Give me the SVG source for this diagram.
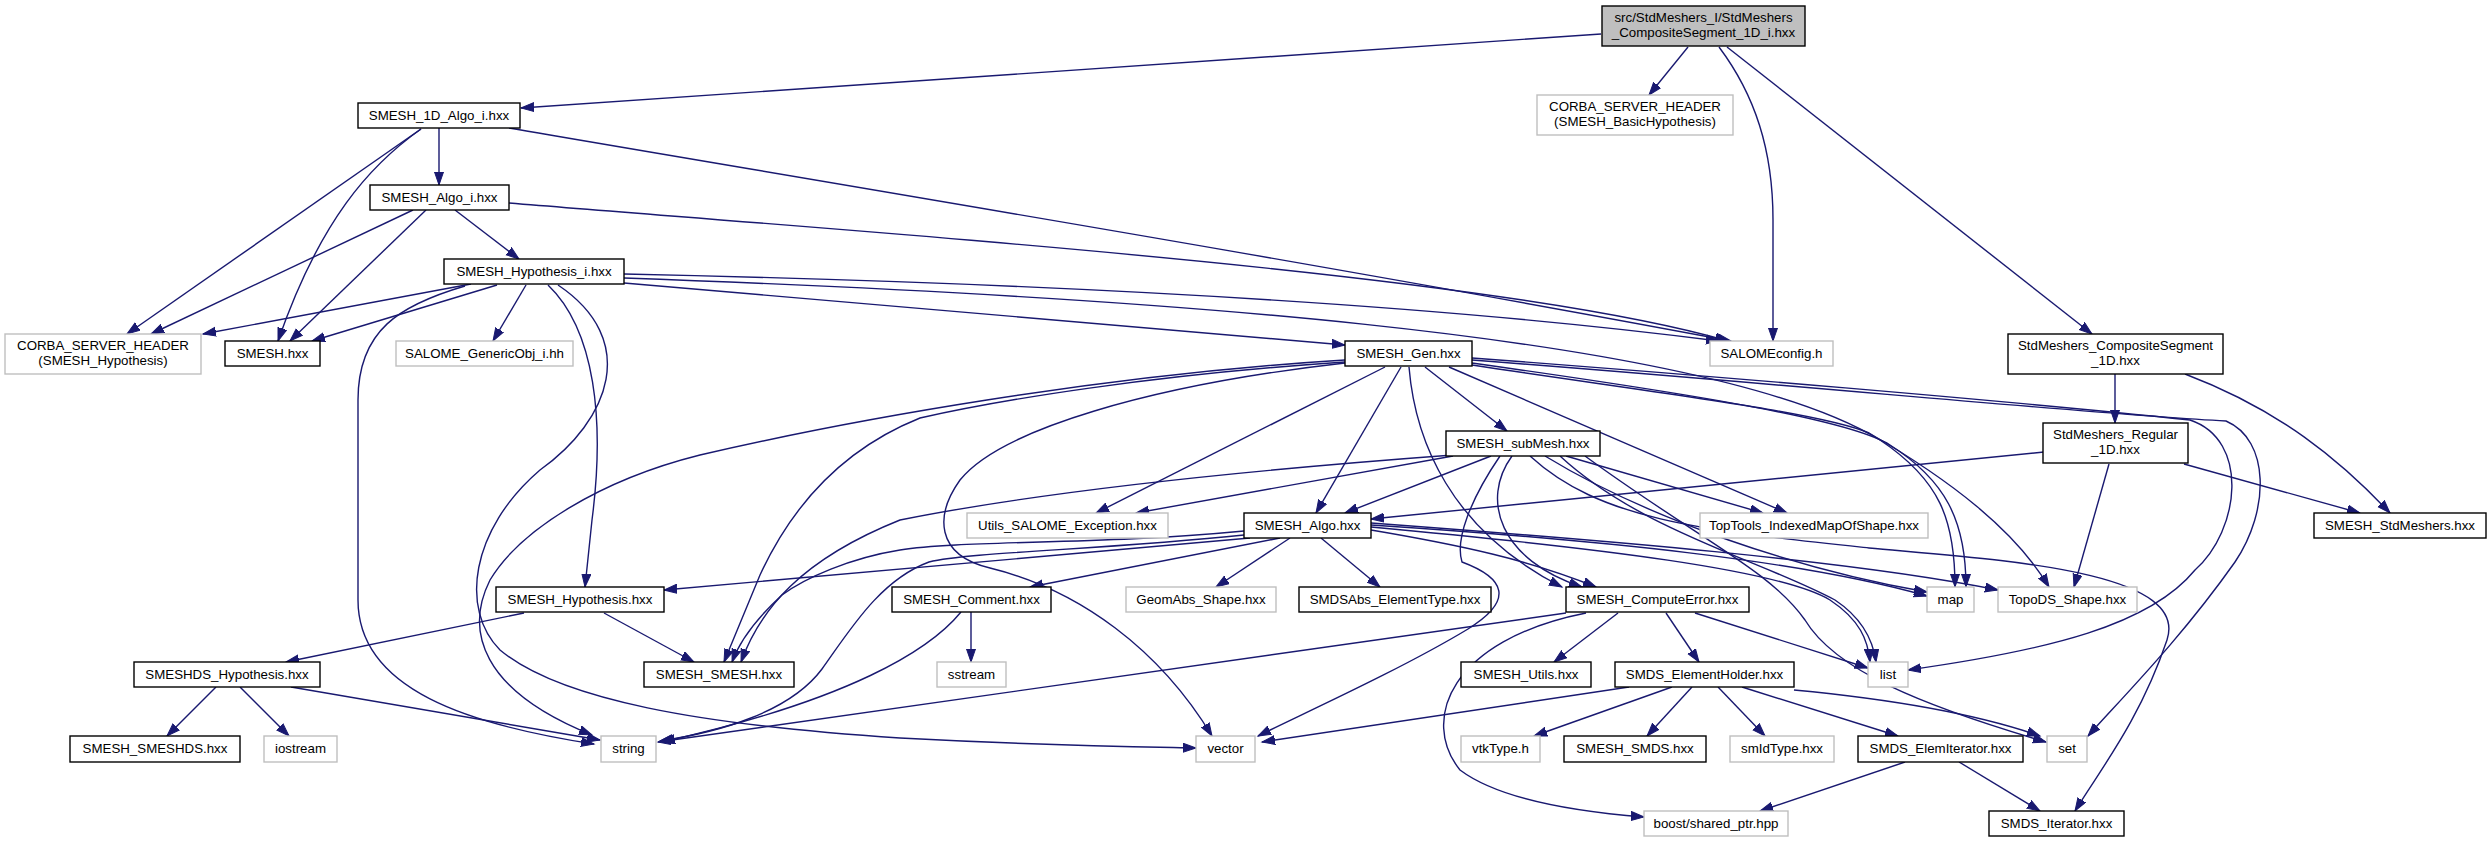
<svg xmlns="http://www.w3.org/2000/svg" width="2491" height="843" viewBox="0 0 2491 843">
<defs>
<marker id="ar" markerUnits="userSpaceOnUse" markerWidth="15" markerHeight="11" refX="13" refY="5" orient="auto">
<path d="M0,0.5 L13,5 L0,9.5 z" fill="#191970" stroke="#191970" stroke-width="1"/>
</marker>
<style>
.nd rect{fill:#fff;stroke:#000;stroke-width:1.4}
.gr rect{fill:#fff;stroke:#bfbfbf;stroke-width:1.4}
.rt rect{fill:#bfbfbf;stroke:#000;stroke-width:1.4}
text{font-family:"Liberation Sans",Arial,Helvetica,sans-serif;font-size:13.3px;text-anchor:middle;fill:#000}
#edges path{fill:none;stroke:#191970;stroke-width:1.4;marker-end:url(#ar)}
</style>
</defs>
<rect width="2491" height="843" fill="#fff"/>
<g id="edges">
<path d="M1601,34 L521,108"/>
<path d="M1688,47 L1649,95"/>
<path d="M1719,47 C1755,95 1773,150 1773,220 L1773,341"/>
<path d="M1727,47 L2092,334"/>
<path d="M439,128 L439,185"/>
<path d="M421,129 L127,334"/>
<path d="M421,129 C370,165 320,220 278,341"/>
<path d="M509,128 C800,178 1300,260 1731,341"/>
<path d="M413,210 L151,334"/>
<path d="M426,210 L290,341"/>
<path d="M455,210 L519,259"/>
<path d="M509,203 C900,235 1500,275 1728,341"/>
<path d="M471,284 L203,334"/>
<path d="M497,285 L312,341"/>
<path d="M526,285 L493,341"/>
<path d="M465,286 C400,305 358,330 358,400 L358,600 C358,690 470,725 594,744"/>
<path d="M548,285 C595,330 605,420 592,520 L585,587"/>
<path d="M558,285 C640,340 610,420 540,470 C470,530 460,610 500,650 C560,700 700,725 900,738 C1050,746 1150,747 1196,748"/>
<path d="M624,283 L1345,345"/>
<path d="M624,274 C1000,282 1400,300 1719,341"/>
<path d="M624,278 C1100,295 1700,330 1880,440 C1940,480 1955,520 1955,587"/>
<path d="M2115,374 L2115,423"/>
<path d="M2185,374 C2280,410 2340,460 2390,513"/>
<path d="M2184,464 L2360,513"/>
<path d="M2044,452 L1371,519"/>
<path d="M2109,464 L2074,587"/>
<path d="M1425,367 L1507,431"/>
<path d="M1401,367 L1316,513"/>
<path d="M1385,367 L1096,513"/>
<path d="M1409,367 C1415,440 1450,530 1562,587"/>
<path d="M1449,367 L1787,513"/>
<path d="M1472,363 C1700,395 1850,420 1890,445 C1945,480 1966,520 1966,587"/>
<path d="M1472,365 C1650,392 1820,412 1869,433 C1950,480 2015,530 2049,587"/>
<path d="M1345,360 C1100,375 850,420 700,455 C600,480 520,530 490,580 C465,630 480,690 592,735"/>
<path d="M1345,362 C1150,375 1000,400 920,418 C840,450 790,510 760,575 L724,662"/>
<path d="M1345,363 C1150,385 1000,430 960,480 C935,515 935,555 990,568 C1080,590 1160,650 1212,736"/>
<path d="M1472,358 C1700,375 2000,400 2190,420 C2250,440 2240,530 2195,570 C2150,625 2050,650 1908,670"/>
<path d="M1472,360 C1800,385 2100,415 2226,421 C2270,440 2270,510 2235,562 C2180,640 2120,700 2088,736"/>
<path d="M1491,456 L1345,513"/>
<path d="M1453,456 L1136,513"/>
<path d="M1566,456 L1763,513"/>
<path d="M1453,455 C1250,470 1050,490 900,520 C800,560 760,610 741,662"/>
<path d="M1512,456 C1480,500 1500,560 1582,587"/>
<path d="M1545,456 C1650,520 1800,570 1927,592"/>
<path d="M1530,456 C1600,520 1700,530 1869,548 C2000,560 2190,570 2167,640 C2140,720 2100,770 2075,811"/>
<path d="M1500,456 C1470,500 1455,540 1462,562 C1505,578 1515,600 1468,629 C1400,670 1300,715 1258,736"/>
<path d="M1560,456 C1640,530 1760,560 1835,600 C1862,618 1873,640 1876,662"/>
<path d="M1585,456 C1700,540 1770,570 1805,620 C1835,670 1920,705 2046,742"/>
<path d="M1244,531 C1100,545 960,540 900,550 C850,558 805,578 782,595 C757,618 740,640 732,662"/>
<path d="M1244,535 C1100,550 970,552 929,562 C880,580 850,630 822,669 C790,712 720,732 660,741"/>
<path d="M1250,538 L664,590"/>
<path d="M1280,538 L1030,587"/>
<path d="M1290,538 L1216,587"/>
<path d="M1321,538 L1380,587"/>
<path d="M1371,530 C1460,545 1530,560 1596,587"/>
<path d="M1371,525 C1600,540 1800,560 1927,596"/>
<path d="M1371,523 C1600,540 1850,560 1998,590"/>
<path d="M1371,527 C1600,548 1780,570 1830,600 C1860,620 1868,640 1870,662"/>
<path d="M1618,613 L1554,662"/>
<path d="M1666,613 L1699,662"/>
<path d="M1695,613 L1868,668"/>
<path d="M1566,613 L658,742"/>
<path d="M1586,613 C1450,640 1420,720 1460,770 C1500,800 1580,812 1644,817"/>
<path d="M1629,687 L1262,742"/>
<path d="M1672,687 L1534,736"/>
<path d="M1692,687 L1647,736"/>
<path d="M1718,687 L1765,736"/>
<path d="M1742,687 L1898,736"/>
<path d="M1794,690 C1900,700 1980,715 2040,736"/>
<path d="M1905,762 L1760,811"/>
<path d="M1959,762 L2040,811"/>
<path d="M524,613 L286,662"/>
<path d="M604,613 L694,662"/>
<path d="M216,687 L167,736"/>
<path d="M240,687 L289,736"/>
<path d="M291,687 L600,740"/>
<path d="M971,612 L971,662"/>
<path d="M961,612 C930,650 850,700 662,742"/>
</g>
<g id="n_root" class="rt"><rect x="1602" y="6" width="203" height="40"/><text x="1703.5" y="22">src/StdMeshers_I/StdMeshers</text><text x="1703.5" y="37">_CompositeSegment_1D_i.hxx</text></g>
<g id="n_1dalgoi" class="nd"><rect x="358" y="103" width="162" height="25"/><text x="439" y="120">SMESH_1D_Algo_i.hxx</text></g>
<g id="n_corbabasic" class="gr"><rect x="1537" y="95" width="196" height="40"/><text x="1635" y="111">CORBA_SERVER_HEADER</text><text x="1635" y="126">(SMESH_BasicHypothesis)</text></g>
<g id="n_salomeconfig" class="gr"><rect x="1710" y="341" width="123" height="25"/><text x="1771.5" y="358">SALOMEconfig.h</text></g>
<g id="n_compseg" class="nd"><rect x="2008" y="334" width="215" height="40"/><text x="2115.5" y="350">StdMeshers_CompositeSegment</text><text x="2115.5" y="365">_1D.hxx</text></g>
<g id="n_algoi" class="nd"><rect x="370" y="185" width="139" height="25"/><text x="439.5" y="202">SMESH_Algo_i.hxx</text></g>
<g id="n_corbahyp" class="gr"><rect x="5" y="334" width="196" height="40"/><text x="103" y="350">CORBA_SERVER_HEADER</text><text x="103" y="365">(SMESH_Hypothesis)</text></g>
<g id="n_smesh" class="nd"><rect x="225" y="341" width="95" height="25"/><text x="272.5" y="358">SMESH.hxx</text></g>
<g id="n_hypi" class="nd"><rect x="444" y="259" width="180" height="25"/><text x="534" y="276">SMESH_Hypothesis_i.hxx</text></g>
<g id="n_genericobj" class="gr"><rect x="396" y="341" width="177" height="25"/><text x="484.5" y="358">SALOME_GenericObj_i.hh</text></g>
<g id="n_gen" class="nd"><rect x="1345" y="341" width="127" height="25"/><text x="1408.5" y="358">SMESH_Gen.hxx</text></g>
<g id="n_regular" class="nd"><rect x="2043" y="423" width="145" height="40"/><text x="2115.5" y="439">StdMeshers_Regular</text><text x="2115.5" y="454">_1D.hxx</text></g>
<g id="n_stdmeshers" class="nd"><rect x="2314" y="513" width="172" height="25"/><text x="2400" y="530">SMESH_StdMeshers.hxx</text></g>
<g id="n_submesh" class="nd"><rect x="1446" y="431" width="154" height="25"/><text x="1523" y="448">SMESH_subMesh.hxx</text></g>
<g id="n_algo" class="nd"><rect x="1244" y="513" width="127" height="25"/><text x="1307.5" y="530">SMESH_Algo.hxx</text></g>
<g id="n_utilsexc" class="gr"><rect x="967" y="513" width="201" height="25"/><text x="1067.5" y="530">Utils_SALOME_Exception.hxx</text></g>
<g id="n_toptools" class="gr"><rect x="1700" y="513" width="228" height="25"/><text x="1814" y="530">TopTools_IndexedMapOfShape.hxx</text></g>
<g id="n_hyp" class="nd"><rect x="496" y="587" width="168" height="25"/><text x="580" y="604">SMESH_Hypothesis.hxx</text></g>
<g id="n_comment" class="nd"><rect x="892" y="587" width="159" height="25"/><text x="971.5" y="604">SMESH_Comment.hxx</text></g>
<g id="n_geomabs" class="gr"><rect x="1126" y="587" width="150" height="25"/><text x="1201" y="604">GeomAbs_Shape.hxx</text></g>
<g id="n_smdsabs" class="nd"><rect x="1299" y="587" width="192" height="25"/><text x="1395" y="604">SMDSAbs_ElementType.hxx</text></g>
<g id="n_comperr" class="nd"><rect x="1566" y="587" width="183" height="25"/><text x="1657.5" y="604">SMESH_ComputeError.hxx</text></g>
<g id="n_map" class="gr"><rect x="1927" y="587" width="47" height="25"/><text x="1950.5" y="604">map</text></g>
<g id="n_topods" class="gr"><rect x="1998" y="587" width="139" height="25"/><text x="2067.5" y="604">TopoDS_Shape.hxx</text></g>
<g id="n_smeshdshyp" class="nd"><rect x="134" y="662" width="186" height="25"/><text x="227" y="679">SMESHDS_Hypothesis.hxx</text></g>
<g id="n_smeshsmesh" class="nd"><rect x="644" y="662" width="150" height="25"/><text x="719" y="679">SMESH_SMESH.hxx</text></g>
<g id="n_sstream" class="gr"><rect x="937" y="662" width="69" height="25"/><text x="971.5" y="679">sstream</text></g>
<g id="n_smeshutils" class="nd"><rect x="1461" y="662" width="130" height="25"/><text x="1526" y="679">SMESH_Utils.hxx</text></g>
<g id="n_elemholder" class="nd"><rect x="1615" y="662" width="179" height="25"/><text x="1704.5" y="679">SMDS_ElementHolder.hxx</text></g>
<g id="n_list" class="gr"><rect x="1868" y="662" width="40" height="25"/><text x="1888" y="679">list</text></g>
<g id="n_smeshds" class="nd"><rect x="70" y="736" width="170" height="26"/><text x="155" y="753">SMESH_SMESHDS.hxx</text></g>
<g id="n_iostream" class="gr"><rect x="264" y="736" width="73" height="26"/><text x="300.5" y="753">iostream</text></g>
<g id="n_string" class="gr"><rect x="601" y="736" width="55" height="26"/><text x="628.5" y="753">string</text></g>
<g id="n_vector" class="gr"><rect x="1196" y="736" width="59" height="26"/><text x="1225.5" y="753">vector</text></g>
<g id="n_vtktype" class="gr"><rect x="1461" y="736" width="79" height="26"/><text x="1500.5" y="753">vtkType.h</text></g>
<g id="n_smds" class="nd"><rect x="1564" y="736" width="142" height="26"/><text x="1635" y="753">SMESH_SMDS.hxx</text></g>
<g id="n_smidtype" class="gr"><rect x="1730" y="736" width="104" height="26"/><text x="1782" y="753">smIdType.hxx</text></g>
<g id="n_elemiter" class="nd"><rect x="1858" y="736" width="165" height="26"/><text x="1940.5" y="753">SMDS_ElemIterator.hxx</text></g>
<g id="n_set" class="gr"><rect x="2047" y="736" width="40" height="26"/><text x="2067" y="753">set</text></g>
<g id="n_boost" class="gr"><rect x="1644" y="811" width="144" height="25"/><text x="1716" y="828">boost/shared_ptr.hpp</text></g>
<g id="n_smdsiter" class="nd"><rect x="1989" y="811" width="135" height="25"/><text x="2056.5" y="828">SMDS_Iterator.hxx</text></g>
</svg>
